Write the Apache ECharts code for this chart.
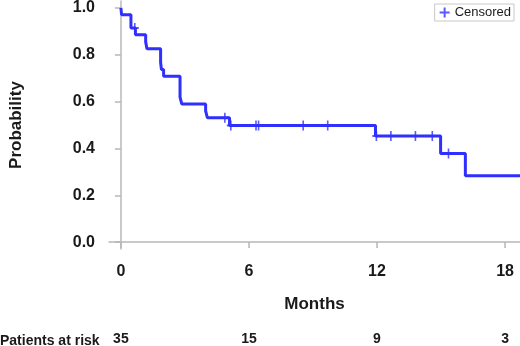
<!DOCTYPE html>
<html>
<head>
<meta charset="utf-8">
<script src="https://cdn.jsdelivr.net/npm/echarts@6/dist/echarts.min.js"></script>
<style>
html, body { margin: 0; padding: 0; background: #fff; }
#chart { width: 520px; height: 346px; }
</style>
</head>
<body>
<div id="chart"></div>
<script>
// Kaplan-Meier steps (time in months, survival probability after the event)
var stepTimes = [0, 0.03, 0.47, 0.68, 1.16, 1.22, 1.86, 1.9, 2.0, 2.77, 2.85, 3.97, 4.05, 5.09, 11.93, 14.98, 16.14, 18.7];
var stepSurv  = [1, 0.971, 0.914, 0.885, 0.855, 0.826, 0.767, 0.737, 0.708, 0.619, 0.590, 0.560, 0.531, 0.498, 0.453, 0.378, 0.283, 0.283];

// censored observations
var censorTimes = [0.65, 4.87, 5.15, 6.33, 6.45, 8.54, 9.69, 11.97, 12.65, 13.8, 14.59, 15.35];
var censorSurv  = [0.914, 0.531, 0.498, 0.498, 0.498, 0.498, 0.498, 0.453, 0.453, 0.453, 0.453, 0.378];

var xTicks = [0, 6, 12, 18];
var yTicks = [0, 0.2, 0.4, 0.6, 0.8, 1.0];
var atRisk = [35, 15, 9, 3];

var blue = '#2f2fff';
var axisGray = '#b8b8b8';
var txt = '#1a1a1a';
var font = '"Liberation Sans", Arial, sans-serif';
var plus = 'path://M4,0H6V4H10V6H6V10H4V6H0V4H4Z';

var chart = echarts.init(document.getElementById('chart'));

var kmData = [];
for (var i = 0; i < stepTimes.length; i++) {
    kmData.push([stepTimes[i], stepSurv[i]]);
}
var censorData = [];
for (var j = 0; j < censorTimes.length; j++) {
    censorData.push([censorTimes[j], censorSurv[j]]);
}

var xMin = -0.558, xMax = 18.7;

var option = {
    animation: false,
    textStyle: { fontFamily: font },
    grid: { left: 106, right: 0, top: 0, bottom: 94 },
    legend: {
        right: 6,
        top: 4,
        data: ['Censored'],
        icon: plus,
        itemWidth: 10,
        itemHeight: 10,
        itemGap: 4,
        padding: [2, 3, 2, 5],
        borderColor: '#c8c8c8',
        borderWidth: 1,
        borderRadius: 0,
        textStyle: { color: txt, fontSize: 13, fontFamily: font }
    },
    graphic: [{
        type: 'text',
        left: 0,
        top: 334,
        style: {
            text: 'Patients at risk',
            fill: txt,
            font: 'bold 14px ' + font
        }
    }],
    xAxis: [{
        type: 'value',
        min: xMin,
        max: xMax,
        name: 'Months',
        nameLocation: 'middle',
        nameGap: 47,
        nameTextStyle: { color: txt, fontSize: 17, fontWeight: 'bold', fontFamily: font },
        axisLine: { lineStyle: { color: axisGray, width: 1.5 } },
        axisTick: { customValues: xTicks, length: 6, lineStyle: { color: axisGray, width: 1.5 } },
        axisLabel: {
            customValues: xTicks,
            margin: 15,
            color: txt,
            fontSize: 16,
            fontWeight: 'bold',
            fontFamily: font
        },
        splitLine: { show: false }
    }, {
        type: 'value',
        min: xMin,
        max: xMax,
        position: 'bottom',
        offset: 74,
        axisLine: { show: false },
        axisTick: { show: false },
        axisLabel: {
            customValues: xTicks,
            margin: 9,
            color: txt,
            fontSize: 14,
            fontWeight: 'bold',
            fontFamily: font,
            formatter: function (v) {
                var k = xTicks.indexOf(Math.round(v));
                return k >= 0 ? String(atRisk[k]) : '';
            }
        },
        splitLine: { show: false }
    }],
    yAxis: {
        type: 'value',
        min: -0.0294,
        max: 1.0294,
        name: 'Probability',
        nameLocation: 'middle',
        nameGap: 84,
        nameTextStyle: { color: txt, fontSize: 17, fontWeight: 'bold', fontFamily: font },
        axisLine: { show: true, lineStyle: { color: axisGray, width: 1.5 } },
        axisTick: { show: true, customValues: yTicks, length: 6, lineStyle: { color: axisGray, width: 1.5 } },
        axisLabel: {
            customValues: yTicks,
            margin: 14,
            color: txt,
            fontSize: 16,
            fontWeight: 'bold',
            fontFamily: font,
            formatter: function (v) { return v.toFixed(1); }
        },
        splitLine: { show: false }
    },
    series: [{
        name: 'Survival',
        type: 'line',
        step: 'end',
        showSymbol: false,
        data: kmData,
        lineStyle: { color: blue, width: 3 },
        itemStyle: { color: blue },
        z: 2
    }, {
        name: 'Censored',
        type: 'scatter',
        symbol: plus,
        symbolSize: [8, 10],
        data: censorData,
        itemStyle: { color: blue },
        z: 3
    }]
};

chart.setOption(option);
</script>
</body>
</html>
